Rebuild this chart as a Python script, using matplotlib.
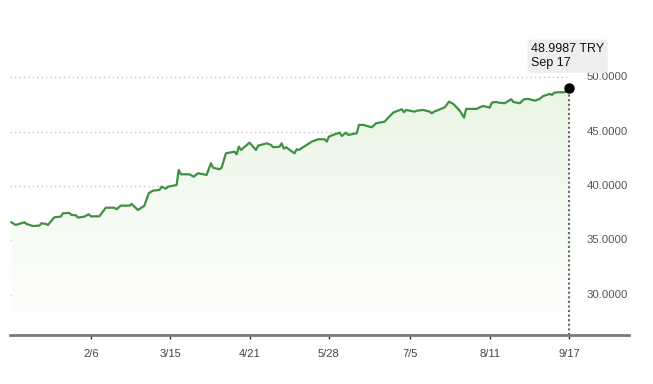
import numpy as np
import pandas as pd
import matplotlib
matplotlib.use('Agg')
import matplotlib.pyplot as plt
import matplotlib.dates as mdates
from matplotlib.patches import Polygon
from matplotlib.colors import LinearSegmentedColormap

# EUR/TRY kuru
dates = [
    '2024-12-31', '2025-01-02', '2025-01-06', '2025-01-07', '2025-01-10', '2025-01-13',
    '2025-01-14', '2025-01-16', '2025-01-17', '2025-01-20', '2025-01-23', '2025-01-24',
    '2025-01-27', '2025-01-28', '2025-01-30', '2025-01-31', '2025-02-03', '2025-02-05',
    '2025-02-06', '2025-02-10', '2025-02-13', '2025-02-17', '2025-02-18', '2025-02-20',
    '2025-02-24', '2025-02-25', '2025-02-28', '2025-03-03', '2025-03-05', '2025-03-07',
    '2025-03-10', '2025-03-11', '2025-03-13', '2025-03-14', '2025-03-18', '2025-03-19',
    '2025-03-20', '2025-03-24', '2025-03-26', '2025-03-28', '2025-04-01', '2025-04-03',
    '2025-04-04', '2025-04-07', '2025-04-08', '2025-04-10', '2025-04-14', '2025-04-15',
    '2025-04-16', '2025-04-17', '2025-04-21', '2025-04-24', '2025-04-25', '2025-04-29',
    '2025-05-01', '2025-05-02', '2025-05-05', '2025-05-06', '2025-05-07', '2025-05-08',
    '2025-05-12', '2025-05-13', '2025-05-14', '2025-05-16', '2025-05-20', '2025-05-23',
    '2025-05-26', '2025-05-27', '2025-05-28', '2025-05-30', '2025-06-02', '2025-06-03',
    '2025-06-05', '2025-06-06', '2025-06-10', '2025-06-11', '2025-06-13', '2025-06-17',
    '2025-06-19', '2025-06-23', '2025-06-24', '2025-06-27', '2025-07-01', '2025-07-02',
    '2025-07-03', '2025-07-07', '2025-07-08', '2025-07-11', '2025-07-14', '2025-07-15',
    '2025-07-16', '2025-07-18', '2025-07-21', '2025-07-23', '2025-07-25', '2025-07-28',
    '2025-07-30', '2025-07-31', '2025-08-05', '2025-08-06', '2025-08-08', '2025-08-11',
    '2025-08-12', '2025-08-14', '2025-08-15', '2025-08-18', '2025-08-21', '2025-08-22',
    '2025-08-25', '2025-08-27', '2025-08-29', '2025-09-01', '2025-09-03', '2025-09-05',
    '2025-09-08', '2025-09-09', '2025-09-10', '2025-09-12', '2025-09-15', '2025-09-17',
]
rates = [
    36.67, 36.42, 36.67, 36.52, 36.33, 36.36,
    36.58, 36.52, 36.42, 37.13, 37.19, 37.50,
    37.53, 37.34, 37.32, 37.10, 37.19, 37.41,
    37.22, 37.22, 38.01, 38.01, 37.87, 38.20,
    38.20, 38.35, 37.80, 38.20, 39.34, 39.58,
    39.64, 39.94, 39.76, 39.94, 40.10, 41.48,
    41.08, 41.08, 40.86, 41.18, 41.02, 42.10,
    41.69, 41.54, 41.69, 43.01, 43.16, 42.92,
    43.62, 43.32, 43.99, 43.32, 43.71, 43.93,
    43.78, 43.57, 43.62, 43.93, 43.44, 43.57,
    43.01, 43.38, 43.32, 43.57, 44.08, 44.30,
    44.30, 44.08, 44.54, 44.70, 44.91, 44.60,
    44.91, 44.70, 44.85, 45.62, 45.62, 45.40,
    45.77, 45.92, 46.14, 46.75, 47.06, 46.78,
    46.99, 46.84, 46.93, 46.99, 46.84, 46.69,
    46.84, 46.99, 47.24, 47.76, 47.55, 46.93,
    46.29, 47.09, 47.09, 47.21, 47.36, 47.21,
    47.67, 47.73, 47.67, 47.61, 47.98, 47.73,
    47.61, 47.98, 48.01, 47.85, 47.98, 48.28,
    48.47, 48.37, 48.58, 48.62, 48.62, 48.9987,
]
tick_dates = ['2025-02-06', '2025-03-15', '2025-04-21', '2025-05-28', '2025-07-05', '2025-08-11', '2025-09-17']
tick_labels = ['2/6', '3/15', '4/21', '5/28', '7/5', '8/11', '9/17']
y_ticks = [30, 35, 40, 45, 50]
tooltip_value = '48.9987 TRY'
tooltip_date = 'Sep 17'

plt.rcParams['font.family'] = ['Liberation Sans', 'DejaVu Sans']

x = mdates.date2num(pd.to_datetime(dates))
xmin = mdates.date2num(pd.Timestamp('2024-12-30 08:00'))
xmax = mdates.date2num(pd.Timestamp('2025-10-14 22:00'))
ymin, ymax = 26.31, 57.10

fig = plt.figure(figsize=(6.53, 3.84), dpi=100)
ax = fig.add_axes([10 / 653, 1 - 335 / 384, 619 / 653, 335 / 384])
ax.set_xlim(xmin, xmax)
ax.set_ylim(ymin, ymax)

# izgara cizgileri (sadece veri araligi boyunca)
for yv in y_ticks:
    ax.plot([xmin, x[-1]], [yv, yv], color='#c4c4c4', lw=1.0, ls=(0, (1, 2.2)), zorder=1)
    ax.text(0.9985, yv, f'{yv:.4f}', transform=ax.get_yaxis_transform(),
            ha='right', va='center', fontsize=8.2, color='#555555')

# gradyan dolgu
poly = Polygon(np.column_stack([np.r_[x[0], x, x[-1]], np.r_[ymin, rates, ymin]]),
               closed=True, facecolor='none', edgecolor='none')
ax.add_patch(poly)
cmap = LinearSegmentedColormap.from_list('g', ['#ffffff', '#eaf6e4'])
grad = np.linspace(0, 1, 256).reshape(-1, 1)
im = ax.imshow(grad, extent=[x[0], x[-1], ymin, max(rates)], origin='lower',
               cmap=cmap, aspect='auto', zorder=1.5)
im.set_clip_path(poly)

ax.plot(x, rates, color='#3f9142', lw=1.6, zorder=3, solid_joinstyle='round')

# secili nokta
ax.plot([x[-1], x[-1]], [ymin, rates[-1]], color='#666666', lw=1.5, ls=(0, (1, 1.2)), zorder=2)
ax.plot(x[-1], rates[-1], 'o', color='black', ms=6.5, zorder=4)
ax.annotate(tooltip_value + '\n' + tooltip_date, xy=(x[-1], rates[-1]),
            xytext=(-38, 45), textcoords='offset pixels', ha='left', va='top',
            fontsize=9, color='#111111', linespacing=1.25,
            bbox=dict(boxstyle='round,pad=0.28,rounding_size=0.3', fc='#eeeeee', ec='none'))

ax.set_xticks(mdates.date2num(pd.to_datetime(tick_dates)))
ax.set_xticklabels(tick_labels)
ax.set_yticks([])
for s in ['top', 'left', 'right']:
    ax.spines[s].set_visible(False)
ax.spines['bottom'].set_color('#7a7a7a')
ax.spines['bottom'].set_linewidth(2)
ax.tick_params(axis='x', direction='out', length=3, width=1, color='#333333',
               labelsize=8, labelcolor='#444444', pad=7)
ax.set_facecolor('none')

fig.savefig('out.png', dpi=100)
